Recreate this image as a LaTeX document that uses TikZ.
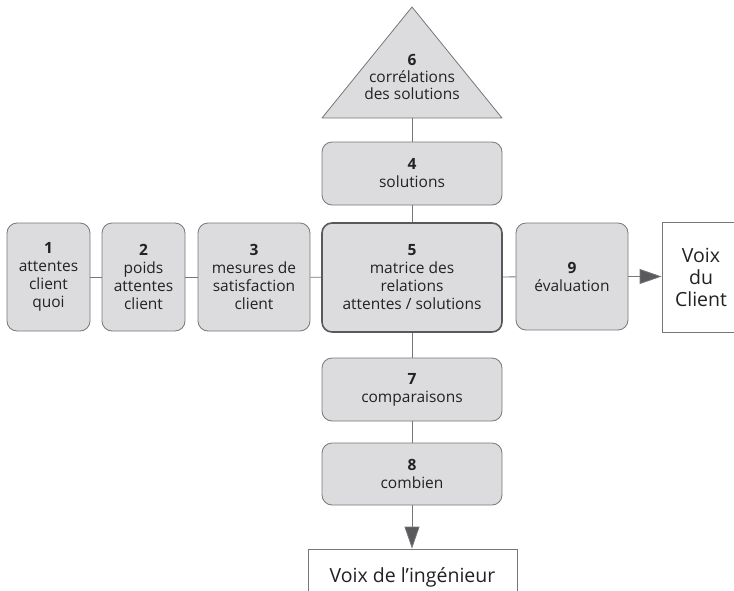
\documentclass[tikz,border=0pt]{standalone}
\usepackage{fontspec}
\setmainfont{Open Sans}
\usetikzlibrary{arrows.meta}
\definecolor{boxfill}{HTML}{DCDCDE}
\definecolor{edge}{HTML}{777779}
\definecolor{ink}{HTML}{222222}
\definecolor{tipfill}{HTML}{5A5A5C}
\begin{document}
\begin{tikzpicture}[x=1pt,y=-1pt,
  stage/.style={draw=edge, line width=0.8pt, fill=boxfill, rounded corners=10pt,
    align=center, inner sep=0pt, text=ink, font=\fontsize{15.5}{18}\selectfont},
  core/.style={stage, draw=edge!75!black, line width=1.6pt},
  voice/.style={draw=edge, line width=0.8pt, fill=white, align=center, text=ink,
    inner sep=0pt, font=\fontsize{19.5}{22}\selectfont},
  link/.style={draw=edge, line width=0.8pt},
  outlink/.style={link, -{Triangle[length=22pt,width=15pt,fill=tipfill]}}
]
\useasboundingbox (0,0) rectangle (734,590);
\clip (0,0) rectangle (734,590);

% roof: correlations between solutions
\draw[draw=edge, line width=0.8pt, fill=boxfill, line join=round]
  (322,118) -- (412,7) -- (502,118) -- cycle;
\node[text=ink, align=center, font=\fontsize{15.5}{17}\selectfont] (n6) at (412,77)
  {\textbf{6}\\corrélations\\des solutions};
\coordinate (n6b) at (412,118);

% central column
\node[stage, minimum width=180, minimum height=63] (n4) at (412,173.5)
  {\textbf{4}\\solutions};
\node[core, minimum width=180, minimum height=109] (n5) at (412,277.5)
  {\textbf{5}\\matrice des\\relations\\attentes / solutions};
\node[stage, minimum width=180, minimum height=63] (n7) at (412,389.5)
  {\textbf{7}\\comparaisons};
\node[stage, minimum width=180, minimum height=62] (n8) at (412,474)
  {\textbf{8}\\combien};

% left row
\node[stage, minimum width=83, minimum height=108] (n1) at (48.5,277)
  {\textbf{1}\\attentes\\client\\quoi};
\node[stage, minimum width=83, minimum height=108] (n2) at (143.5,277)
  {\textbf{2}\\poids\\attentes\\client};
\node[stage, minimum width=112, minimum height=108] (n3) at (254,277)
  {\textbf{3}\\mesures de\\satisfaction\\client};

% right side
\node[stage, minimum width=112, minimum height=107] (n9) at (572,276.5)
  {\textbf{9}\\évaluation};
\node[voice, minimum width=78, minimum height=110] (vc) at (701,277.5)
  {Voix\\du\\Client};
\node[voice, minimum width=209, minimum height=56] (vi) at (412.5,577)
  {Voix de l’ingénieur};

% connectors
\draw[link] (n1) -- (n2);
\draw[link] (n2) -- (n3);
\draw[link] (n3) -- (n5);
\draw[link] (n5) -- (n9);
\draw[outlink] (n9.east) -- (n9.east -| vc.west);
\draw[link] (n6b) -- (n4);
\draw[link] (n4) -- (n5);
\draw[link] (n5) -- (n7);
\draw[link] (n7) -- (n8);
\draw[outlink] (n8.south) -- (n8.south |- vi.north);
\end{tikzpicture}
\end{document}
